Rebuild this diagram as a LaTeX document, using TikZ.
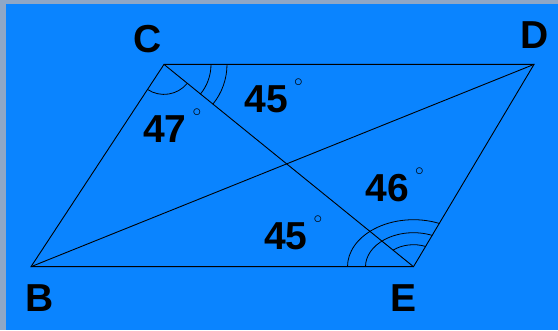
\documentclass[tikz,border=0pt]{standalone}
\usepackage{fontspec}
\setmainfont{Liberation Sans}
\definecolor{fondo}{HTML}{0A84FF}
\definecolor{marco}{HTML}{8FA7C6}
\tikzset{
  lado/.style={black, line width=0.9pt},
  arco/.style={black, line width=0.8pt},
  etiq/.style={font=\bfseries\fontsize{39}{42}\selectfont, inner sep=0pt},
}
\newcommand{\grado}{\hspace{6pt}\raisebox{26pt}{\fontsize{18}{18}\selectfont$\circ$}}
\begin{document}
\begin{tikzpicture}[x=1pt, y=1pt]

% ================================================================
%  Fondo — 558 x 330, marco gris a la izquierda y arriba
% ================================================================
\useasboundingbox (0,0) rectangle (558,330);
\fill[marco] (0,0) rectangle (558,330);
\fill[fondo] (6,0) rectangle (558,326);

% Vertices del paralelogramo
\coordinate (B) at ( 31.0,  63.3);
\coordinate (C) at (164.0, 265.6);
\coordinate (D) at (534.0, 265.6);
\coordinate (E) at (413.5,  63.3);

% Lados y diagonales
\draw[lado] (B) -- (C) -- (D) -- (E) -- cycle;
\draw[lado] (B) -- (D);
\draw[lado] (C) -- (E);

% Arcos en C
\draw[arco] (C) ++(236.7:30pt) arc[start angle=236.7, end angle=320.9, radius=30pt];
\draw[arco] (C) ++(-39.1:47pt) arc[start angle=-39.1, end angle=0, radius=47pt];
\draw[arco] (C) ++(-39.1:63pt) arc[start angle=-39.1, end angle=0, radius=63pt];

% Arcos en E (elipticos)
\draw[arco] (E) ++(67:31pt and 22pt) arc[start angle=67, end angle=131.4, x radius=31pt, y radius=22pt];
\draw[arco] (E) ++(67:48pt and 34pt) arc[start angle=67, end angle=180, x radius=48pt, y radius=34pt];
\draw[arco] (E) ++(67:66pt and 47pt) arc[start angle=67, end angle=180, x radius=66pt, y radius=47pt];

% Letras de los vertices
\node[etiq] (lblC) at (147.7, 291) {C};
\node[etiq] (lblD) at (534.5, 295) {D};
\node[etiq] (lblB) at ( 40.0,  32) {B};
\node[etiq] (lblE) at (404.0,  32) {E};

% Medidas de los angulos
\node[etiq, anchor=base west] (angCD) at (244.5, 217.0) {45\grado};
\node[etiq, anchor=base west] (angCB) at (143.0, 187.0) {47\grado};
\node[etiq, anchor=base west] (angED) at (365.5, 128.3) {46\grado};
\node[etiq, anchor=base west] (angEB) at (264.0,  80.0) {45\grado};

\end{tikzpicture}
\end{document}
